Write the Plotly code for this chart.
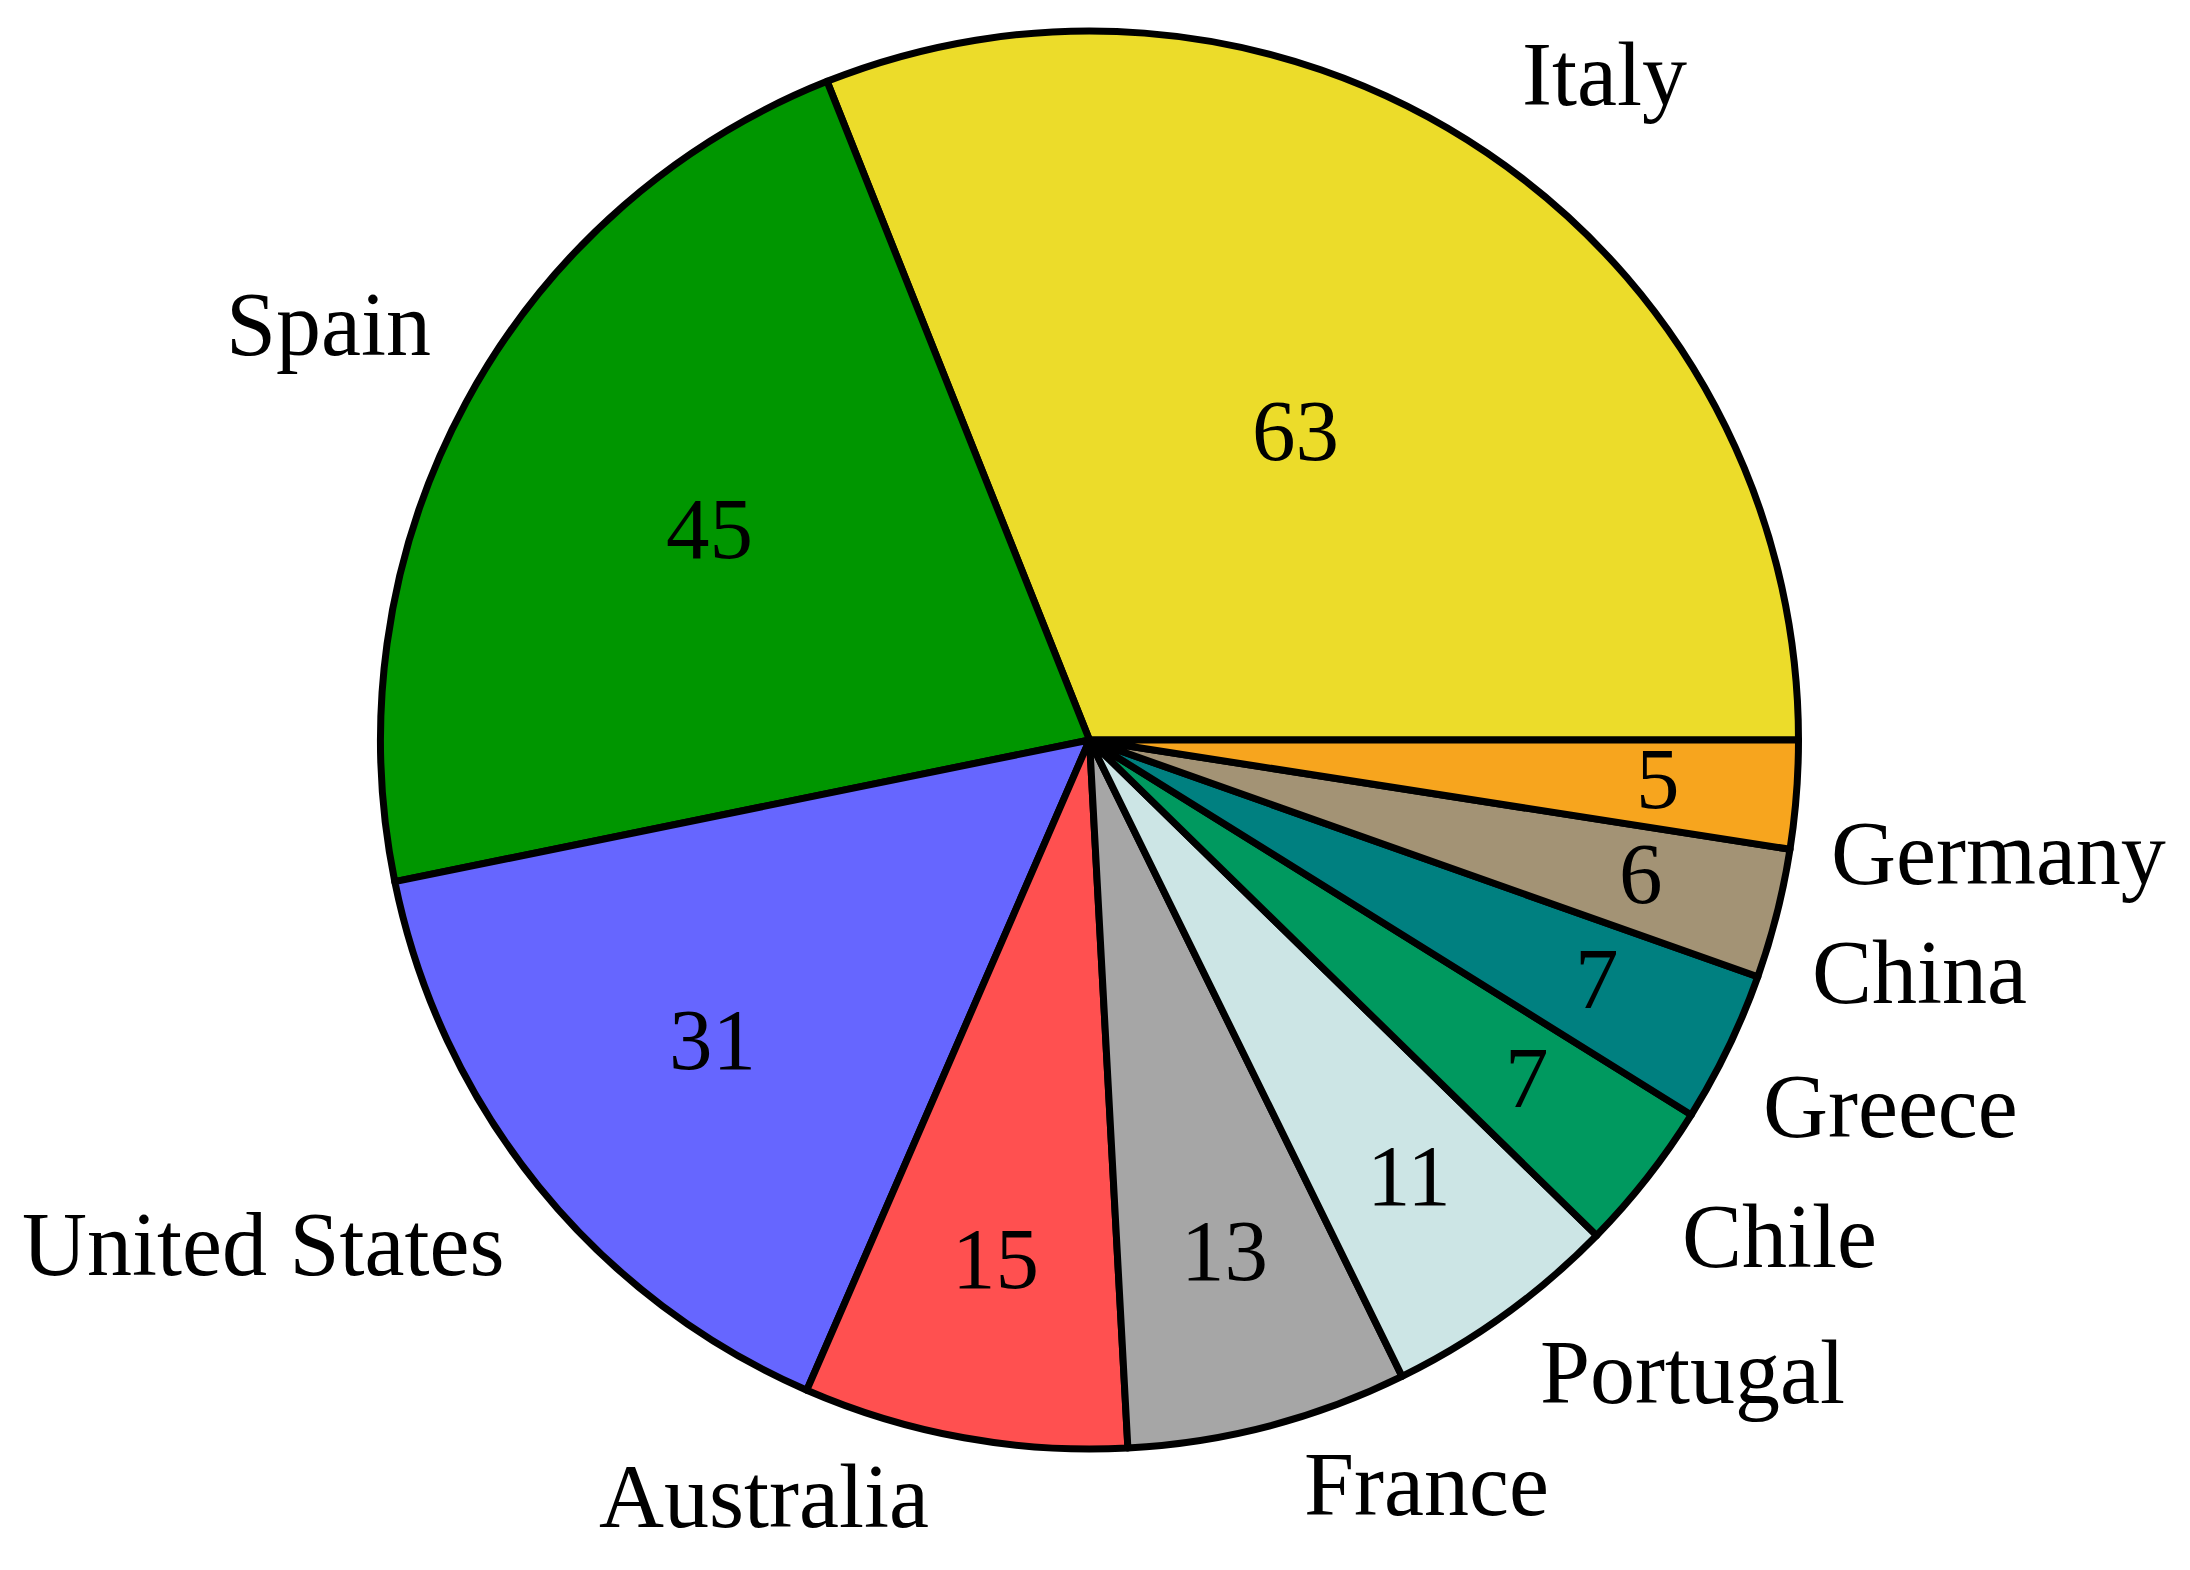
import math
import plotly.graph_objects as go

# ---- data ----
countries = ["Italy", "Spain", "United States", "Australia", "France",
             "Portugal", "Chile", "Greece", "China", "Germany"]
values = [63, 45, 31, 15, 13, 11, 7, 7, 6, 5]
colors = ["#ECDC2A", "#009600", "#6666FF", "#FF5050", "#A6A6A6",
          "#CCE5E5", "#00995F", "#008080", "#A39375", "#F7A51E"]

# ---- layout constants (pixels, relative to the figure div) ----
W, H = 2190, 1570
PAGE_OFFSET = 8     # default body margin of the html page
CX, CY, R = 1089.5 - PAGE_OFFSET, 740.0 - PAGE_OFFSET, 709.0
GAP_X = 33          # horizontal gap between pie edge and label
GAP_Y_LOW = 7       # vertical gap for labels below centre
GAP_Y_UP = 27       # vertical gap for labels above centre
FONT = "Liberation Serif, Times New Roman, serif"
LABEL_SIZE = 90
VALUE_SIZE = 87

dom_y = [1 - (CY + R) / H, 1 - (CY - R) / H]
half_w = 0.34
dom_x = [CX / W - half_w, CX / W + half_w]

total = sum(values)
# counterclockwise from 3 o'clock; plotly draws first ccw slice ending at 'rotation'
rotation = 90 - values[0] / total * 360

fig = go.Figure(go.Pie(
    labels=countries,
    values=values,
    sort=False,
    direction="counterclockwise",
    rotation=rotation,
    marker=dict(colors=colors, line=dict(color="black", width=7)),
    textinfo="none",
    hoverinfo="label+value",
    showlegend=False,
    domain=dict(x=dom_x, y=dom_y),
))

annotations = []
cum = 0
for name, v in zip(countries, values):
    mid = (cum + v / 2) / total * 2 * math.pi
    half = v / total * math.pi
    cum += v
    c, s = math.cos(mid), math.sin(mid)
    # outside label: corner of text box placed next to slice edge midpoint
    ex = CX + R * c
    ey = CY - R * s
    px = ex + (GAP_X if c >= 0 else -GAP_X)
    py = ey - GAP_Y_UP if s > 0 else ey + GAP_Y_LOW
    annotations.append(dict(
        x=px / W, y=1 - py / H, xref="paper", yref="paper",
        text=name, showarrow=False,
        xanchor="left" if c >= 0 else "right",
        yanchor="bottom" if s > 0 else "top",
        font=dict(family=FONT, size=LABEL_SIZE, color="black"),
    ))
    # inside value
    r_in = min(1 / (1 + 1 / math.sin(half)), 0.5)
    rc = min(1 - r_in, 0.805 - 0.055 * s * s)
    if half > 0.9:
        rc -= 0.03
    vx = CX + rc * R * c
    vy = CY - rc * R * s
    annotations.append(dict(
        x=vx / W, y=1 - vy / H, xref="paper", yref="paper",
        text=str(v), showarrow=False,
        xanchor="center", yanchor="middle", yshift=6,
        font=dict(family=FONT, size=VALUE_SIZE, color="black"),
    ))

fig.update_layout(
    width=W, height=H,
    margin=dict(l=0, r=0, t=0, b=0),
    paper_bgcolor="white",
    plot_bgcolor="white",
    annotations=annotations,
)

fig.write_html("out.html")
